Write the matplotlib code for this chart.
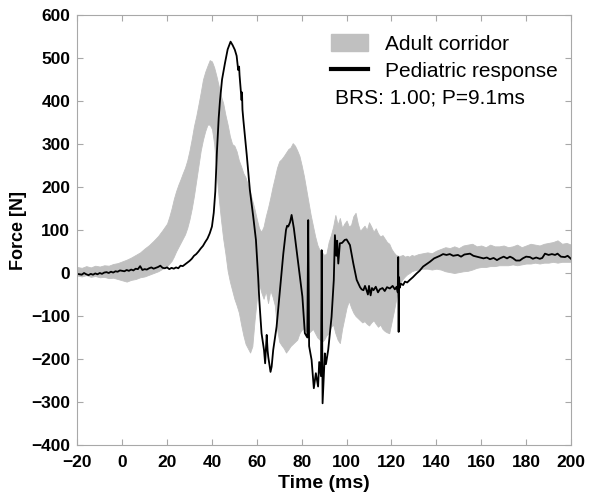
import numpy as np
import matplotlib
matplotlib.use("Agg")
import matplotlib.pyplot as plt
from matplotlib.patches import Patch
from matplotlib.lines import Line2D

plt.rcParams['font.family'] = ['Liberation Sans', 'DejaVu Sans']

# ---------------- data ----------------
corr_t = [-20, -18, -16, -14, -12, -10, -8, -6, -4, -2, 0, 2, 4, 6, 8, 10, 12, 14, 16, 18, 20,
          21, 22, 23, 24, 25, 26, 27, 28, 29, 30, 31, 32, 33, 34, 35, 36, 37, 38, 39, 40,
          41, 42, 43, 44, 45, 46, 47, 48, 49, 50, 51, 52, 53, 54, 55, 56, 57, 58, 59, 60,
          61, 62, 63, 64, 65, 66, 67, 68, 69, 70, 71, 72, 73, 74, 75, 76, 77, 78, 79, 80,
          81, 82, 83, 84, 85, 86, 87, 88, 89, 90, 91, 92, 93, 94, 95, 96, 97, 98, 99, 100,
          101, 102, 103, 104, 105, 106, 107, 108, 109, 110, 111, 112, 113, 114, 115, 116,
          117, 118, 119, 120, 121, 122, 123, 124, 125, 126, 127, 128, 129, 130,
          132, 134, 136, 138, 140, 142, 144, 146, 148, 150, 152, 154, 156, 158, 160, 162,
          164, 166, 168, 170, 172, 174, 176, 178, 180, 182, 184, 186, 188, 190, 192, 194,
          196, 198, 200]

corr_upper = [14, 12, 16, 13, 17, 15, 18, 17, 21, 23, 27, 31, 36, 42, 48, 57, 65, 75, 86, 100, 115,
              131, 150, 172, 190, 205, 218, 232, 245, 262, 285, 312, 342, 365, 392, 420, 450, 468, 482, 495, 492,
              478, 458, 435, 412, 395, 368, 345, 318, 300, 296, 283, 262, 248, 232, 222, 205, 188, 168, 148, 125,
              104, 96, 108, 132, 152, 175, 200, 222, 245, 260, 265, 272, 280, 288, 292, 302, 296, 285, 272, 250,
              225, 195, 165, 135, 110, 85, 65, 53, 48, 42, 45, 72, 88, 108, 135, 112, 128, 105, 115, 122,
              108, 112, 132, 140, 115, 98, 104, 110, 100, 118, 108, 96, 104, 92, 85, 88,
              80, 72, 68, 56, 48, 42, 40, 40, 42, 38, 40, 38, 42, 40,
              44, 46, 48, 46, 52, 56, 60, 58, 62, 58, 64, 66, 68, 62, 64, 60,
              66, 62, 62, 64, 60, 62, 66, 60, 64, 68, 66, 64, 68, 70, 72, 76,
              68, 70, 66]

corr_lower = [-6, -8, -5, -9, -7, -10, -9, -12, -11, -14, -17, -20, -16, -14, -10, -8, -4, 0, 4, 10, 16,
              22, 28, 38, 50, 60, 70, 80, 90, 105, 125, 150, 180, 215, 250, 285, 310, 330, 345, 345, 335,
              300, 235, 175, 125, 80, 45, 5, -20, -40, -60, -75, -92, -120, -145, -165, -175, -185, -170, -110, -60,
              -25, -45, -60, -42, -70, -40, -55, -75, -130, -160, -168, -175, -185, -178, -170, -165, -160, -155, -140, -132,
              -128, -135, -140, -135, -130, -140, -150, -155, -160, -155, -145, -140, -125, -120, -140, -155, -163, -130, -105, -80,
              -65, -80, -92, -100, -105, -110, -115, -112, -118, -122, -115, -110, -118, -125, -120, -130,
              -135, -138, -140, -115, -90, -63, -35, -22, -14, -8, -3, 0, 4, 6,
              8, 10, 10, 8, 10, 8, 4, 2, 0, 2, 4, 5, 8, 12, 14, 14,
              16, 16, 18, 18, 18, 20, 18, 20, 22, 22, 24, 22, 24, 24, 26, 24,
              26, 26, 26]

ped_t = [-20, -18, -17, -16, -15, -14, -13, -12, -11, -10, -9, -8, -7, -6, -5, -4, -3, -2, -1, 0,
         1, 2, 3, 4, 5, 6, 7, 8, 9, 10, 11, 12, 13, 14, 15, 16, 17, 18, 19, 20,
         21, 22, 23, 24, 25, 26, 27, 28, 29, 30, 31, 32, 33, 34, 35, 36, 37, 38, 39, 40,
         40.8, 41.5, 42.2, 43, 43.6, 44.5, 45.8, 47, 48.3, 49.2, 50.2, 51, 51.7, 52.1, 52.3, 53.2,
         53.4, 53.6, 54, 55.5, 56.9, 58.4, 59.6, 60.6, 61.1, 62.1, 63.2, 63.7, 64.4, 64.8, 65.1,
         66.1, 66.6, 67.3, 68.8, 70.3, 71.8, 73.0, 73.5, 74, 74.8, 75.5, 76.5, 77.7, 79.2, 80.3,
         81.4, 82.5, 82.9, 83.3, 84.4, 85.4, 86.3, 87.3, 87.8, 88.6, 88.9, 89.3, 90.3, 90.8, 91.8,
         93.3, 94.3, 94.8, 95.4, 95.8, 96.3, 97.0, 98.0, 99.2, 100, 101.5, 103, 104.5, 106, 106.7,
         107.5, 108.2, 108.9, 109.5, 110, 110.7, 111.3, 112, 113, 114, 114.8, 116, 117, 118, 119.3,
         120.5, 121.5, 122.3, 122.8, 123, 123.2, 123.4, 123.6, 124.2, 125.2, 126, 127, 128.2, 129.5,
         131.2, 132.5, 134.1, 135.5, 137.1, 139, 141.6, 143, 144.5, 146, 147.5, 149.6, 151, 152.5,
         155, 156.5, 158, 159.4, 161, 162.5, 163.9, 165.5, 167, 168.3, 170, 171.5, 172.8, 174,
         175.5, 177.2, 178.5, 180, 181.7, 183, 184.5, 186.1, 187.2, 188.4, 190, 191.5, 192.9, 194,
         195.5, 197.3, 198.5, 200]

ped_force = [-2, -4, 0, -3, -5, -2, -4, -1, -3, 0, -2, 1, 2, 0, 3, 1, 4, 3, 6, 5,
             4, 7, 5, 8, 6, 10, 9, 16, 7, 9, 8, 11, 13, 10, 12, 14, 17, 12, 11, 13,
             9, 12, 10, 13, 11, 17, 16, 20, 24, 28, 33, 40, 44, 50, 57, 63, 72, 80, 92, 108,
             140, 190, 280, 360, 402, 450, 488, 520, 538, 530, 519, 505, 472, 480, 460, 402,
             420, 380, 356, 275, 193, 131, 77, -10, -63, -140, -179, -210, -144, -180, -195,
             -230, -218, -179, -125, -40, 45, 100, 110, 108, 118, 135, 104, 53, -9, -55,
             -140, -150, 123, -170, -202, -268, -233, -264, -207, -240, 53, -303, -187, -212, -179,
             -102, -16, 88, 40, 75, 22, 69, 70, 77, 78, 65, 22, -16, -33, -38,
             -40, -30, -40, -50, -30, -52, -35, -40, -32, -45, -38, -35, -42, -33, -36,
             -30, -38, -32, -45, 37, -137, -10, -35, -25, -28, -20, -22, -16, -10,
             -1, 5, 15, 20, 26, 34, 40, 44, 42, 44, 40, 42, 38, 43,
             45, 40, 38, 36, 34, 36, 32, 35, 30, 34, 38, 34, 38, 35,
             29, 29, 34, 38, 37, 33, 36, 33, 35, 45, 42, 44, 42, 45,
             38, 37, 40, 33]

x_ticks = [-20, 0, 20, 40, 60, 80, 100, 120, 140, 160, 180, 200]
y_ticks = [-400, -300, -200, -100, 0, 100, 200, 300, 400, 500, 600]

# ---------------- figure ----------------
fig = plt.figure(figsize=(5.96, 5.01), dpi=100)
L, R, T, B = 77.3, 571, 15, 445
ax = fig.add_axes([L / 596, 1 - B / 501, (R - L) / 596, (B - T) / 501])

corr_color = '#c0c0c0'
ax.fill_between(corr_t, corr_lower, corr_upper, color=corr_color, linewidth=0.6,
                edgecolor=corr_color)
ax.plot(ped_t, ped_force, color='black', linewidth=1.3)

ax.set_xlim(-20, 200)
ax.set_ylim(-400, 600)
ax.set_xticks(x_ticks)
ax.set_yticks(y_ticks)

spine_c = '#a8a8a8'
for s in ax.spines.values():
    s.set_color(spine_c)
    s.set_linewidth(0.8)
ax.tick_params(direction='in', length=4, width=0.8, color=spine_c,
               top=True, right=True, labelsize=12.5, pad=5)
ax.tick_params(axis='x', pad=7)
for lab in ax.get_xticklabels() + ax.get_yticklabels():
    lab.set_fontweight('bold')

ax.set_xlabel('Time (ms)', fontsize=14, fontweight='bold', labelpad=4)
ax.set_ylabel('Force [N]', fontsize=13, fontweight='bold', labelpad=3)

handles = [Patch(facecolor=corr_color, edgecolor=corr_color),
           Line2D([0], [0], color='black', linewidth=3)]
leg = ax.legend(handles, ['Adult corridor', 'Pediatric response'],
                loc='upper left', bbox_to_anchor=(331 / 596, 1 - 34 / 501),
                bbox_transform=fig.transFigure, frameon=False, fontsize=15,
                handlelength=1.8, handleheight=0.9, handletextpad=0.8,
                labelspacing=0.35, borderpad=0, borderaxespad=0)

fig.text(335 / 596, 1 - 98 / 501, 'BRS: 1.00; P=9.1ms', fontsize=15,
         ha='left', va='center')

fig.savefig('out.png', dpi=100)
